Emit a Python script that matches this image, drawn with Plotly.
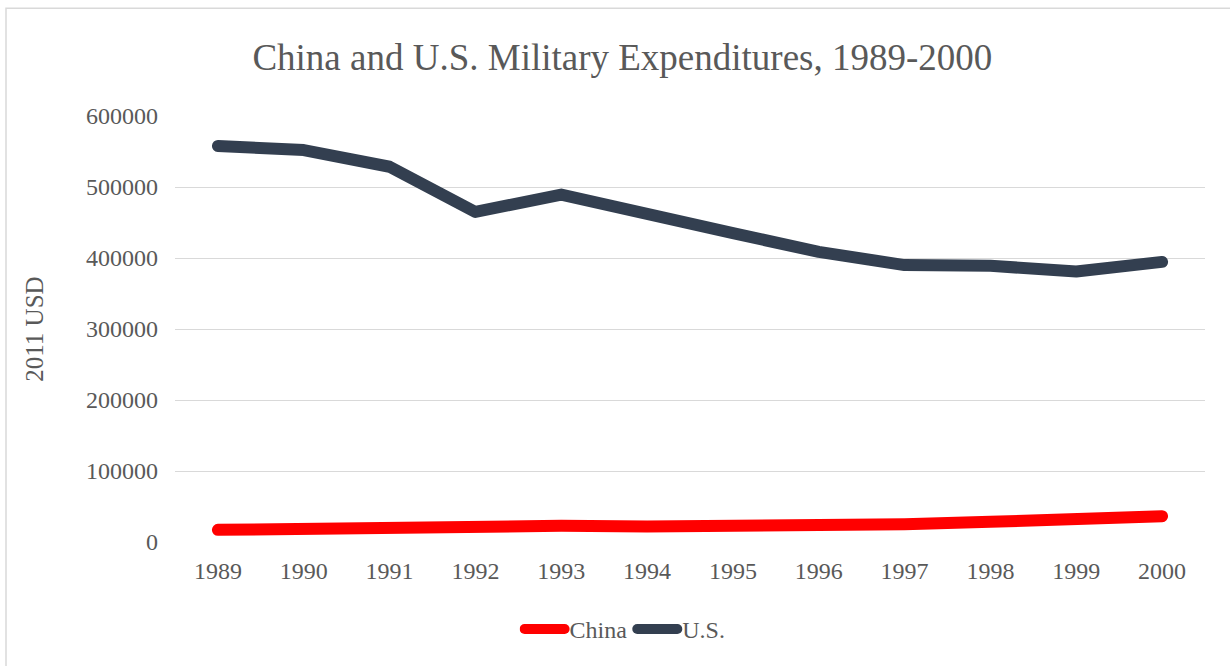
import plotly.graph_objects as go

years = ["1989", "1990", "1991", "1992", "1993", "1994", "1995", "1996", "1997", "1998", "1999", "2000"]
china = [17100, 18500, 20800, 24600, 22800, 21800, 22200, 23600, 25000, 28400, 32600, 36300]
us = [557700, 552000, 528500, 464800, 489400, 464000, 435000, 408600, 390000, 389000, 381000, 394500]
y_ticks = [0, 100000, 200000, 300000, 400000, 500000, 600000]

FONT = "Liberation Serif, Times New Roman, serif"
GRAY = "#595959"

fig = go.Figure()
fig.add_trace(go.Scatter(x=years, y=china, name="China", mode="lines",
                         line=dict(color="#FF0000", width=12, shape="linear")))
fig.add_trace(go.Scatter(x=years, y=us, name="U.S.", mode="lines",
                         line=dict(color="#333F50", width=12, shape="linear")))

fig.update_layout(
    width=1230, height=666,
    margin=dict(l=175, r=25, t=116, b=124),
    paper_bgcolor="white", plot_bgcolor="white",
    font=dict(family=FONT, color=GRAY, size=24),
    title=dict(text="China and U.S. Military Expenditures, 1989-2000",
               font=dict(family=FONT, size=37, color=GRAY),
               x=0.506, xref="container", xanchor="center",
               y=1 - 57 / 666, yref="container", yanchor="middle"),
    showlegend=True,
    legend=dict(orientation="h", x=0.437, xanchor="center", y=-0.205, yanchor="middle",
                font=dict(family=FONT, size=24, color=GRAY), itemwidth=40,
                traceorder="normal"),
    xaxis=dict(type="category", range=[-0.5, 11.5], showgrid=False, showline=False,
               zeroline=False, tickfont=dict(family=FONT, size=24, color=GRAY),
               ticklabelstandoff=12),
    yaxis=dict(range=[0, 600000], tickvals=y_ticks, ticktext=[str(v) for v in y_ticks],
               showgrid=True, gridcolor="#D9D9D9", gridwidth=1.3, zeroline=False,
               showline=False, tickfont=dict(family=FONT, size=24, color=GRAY),
               ticklabelstandoff=16),
    annotations=[dict(text="2011 USD", xref="paper", yref="paper",
                      x=(35 - 175) / 1030, y=(542.5 - 330) / 426.5,
                      xanchor="center", yanchor="middle", textangle=-90, showarrow=False,
                      font=dict(family=FONT, size=25, color=GRAY))],
    shapes=[dict(type="rect", xref="paper", yref="paper",
                 x0=(6 - 175) / 1030, x1=1.2, y0=-0.6, y1=(542.5 - 8) / 426.5,
                 line=dict(color="#D9D9D9", width=1.5), fillcolor="rgba(0,0,0,0)",
                 layer="below")],
)

post = (
    "document.body.style.margin='0';"
    "document.querySelectorAll('path.js-line').forEach(function(p){"
    "p.style.strokeLinecap='round';p.style.strokeLinejoin='round';});"
)
fig.write_html("out.html", config={"displayModeBar": False}, post_script=post)
